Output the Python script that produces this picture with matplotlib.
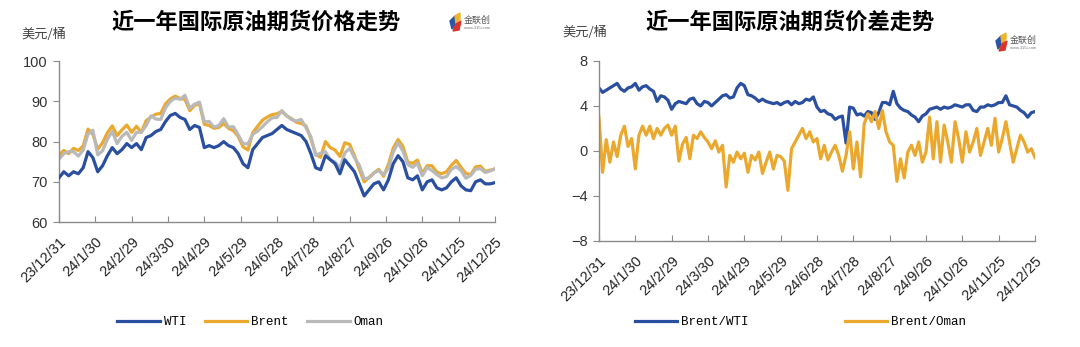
import numpy as np
import pandas as pd
import matplotlib
matplotlib.use('Agg')
import matplotlib.pyplot as plt
from matplotlib.patches import Polygon

# left chart: futures prices, USD/bbl, sampled every 4 days from 23/12/31
wti = [71.0, 72.5, 71.5, 72.5, 72.0, 73.5, 77.5, 76.0, 72.5, 74.0,
       76.5, 78.5, 77.0, 78.0, 79.5, 78.5, 79.5, 78.0, 81.0, 81.5,
       82.5, 83.0, 85.0, 86.5, 87.0, 86.0, 85.5, 83.0, 84.0, 83.5,
       78.5, 79.0, 78.5, 79.0, 80.0, 79.0, 78.5, 77.0, 74.5, 73.5,
       78.0, 79.5, 81.0, 81.5, 82.0, 83.0, 84.0, 83.0, 82.5, 82.0,
       81.5, 80.0, 77.0, 73.5, 73.0, 76.5, 75.5, 74.5, 72.0, 75.5,
       74.0, 72.5, 69.5, 66.5, 68.0, 69.5, 70.0, 68.0, 70.5, 74.5,
       76.5, 75.0, 71.0, 70.5, 71.5, 68.0, 70.0, 70.5, 68.5, 68.0,
       68.5, 70.0, 71.0, 69.0, 68.0, 67.8, 70.0, 70.5, 69.5, 69.5, 69.8]
brent = [76.6, 77.8, 77.0, 78.3, 77.8, 78.9, 83.1, 81.8, 78.1, 79.7,
         82.2, 83.9, 81.5, 82.9, 84.1, 82.3, 83.8, 82.3, 85.2, 86.1,
         86.8, 87.0, 89.4, 90.6, 91.3, 90.7, 90.5, 87.7, 89.0, 89.4,
         84.3, 84.0, 83.3, 83.5, 84.5, 83.3, 82.7, 81.3, 78.7, 77.9,
         82.2, 83.8, 85.3, 86.1, 86.7, 86.9, 87.5, 86.4, 85.7, 84.8,
         84.5, 83.9, 80.7, 76.8, 76.1, 80.0, 78.5, 77.9, 76.3, 79.7,
         79.3, 76.5, 73.1, 70.0, 71.1, 72.2, 73.1, 71.4, 74.3, 78.4,
         80.5, 78.8, 74.9, 74.6, 75.4, 72.1, 74.0, 74.0, 72.4, 72.0,
         72.5, 74.1, 75.3, 73.6, 72.1, 71.8, 73.7, 73.9, 72.6, 72.9, 73.2]
oman = [75.6, 77.0, 77.5, 77.5, 76.4, 77.9, 81.9, 82.8, 76.7, 77.7,
        80.6, 82.5, 79.5, 81.3, 82.3, 80.3, 82.3, 82.3, 84.0, 86.4,
        85.6, 85.5, 88.4, 90.0, 90.8, 90.5, 91.5, 88.3, 89.3, 89.8,
        84.9, 85.0, 83.6, 84.0, 85.7, 83.6, 83.7, 81.7, 79.5, 79.4,
        81.8, 82.6, 83.7, 84.9, 85.9, 86.0, 87.7, 86.4, 85.5, 85.1,
        85.5, 83.4, 81.2, 76.6, 77.1, 77.5, 75.5, 74.9, 73.5, 77.2,
        78.3, 76.0, 74.1, 70.8, 70.9, 72.2, 72.8, 71.8, 73.3, 77.4,
        79.7, 77.6, 74.3, 73.6, 74.6, 71.5, 73.6, 72.8, 71.8, 71.0,
        71.3, 73.1, 73.8, 72.8, 70.9, 71.6, 73.1, 73.3, 72.3, 72.7, 73.2]

# right chart: spreads, USD/bbl, sampled every 3 days from 23/12/31
brent_wti = [5.6, 5.2, 5.4, 5.6, 5.8, 6.0, 5.5, 5.3, 5.6, 5.7,
             6.0, 5.4, 5.7, 5.8, 5.5, 5.3, 4.4, 4.9, 4.8, 4.5,
             3.7, 4.2, 4.4, 4.3, 4.2, 4.6, 4.7, 4.2, 4.0, 4.4,
             4.3, 4.0, 4.3, 4.6, 4.9, 5.0, 4.7, 4.8, 5.6, 6.0,
             5.8, 5.0, 4.9, 4.7, 4.4, 4.6, 4.4, 4.3, 4.2, 4.3,
             4.1, 4.3, 4.4, 4.1, 4.4, 4.2, 4.3, 4.6, 4.5, 4.8,
             3.9, 3.5, 3.6, 3.3, 3.2, 2.8, 3.0, 3.1, 0.7, 3.9,
             3.8, 3.2, 3.3, 3.1, 3.5, 3.4, 2.8, 3.4, 4.3, 4.3,
             4.1, 5.3, 4.2, 3.8, 3.6, 3.5, 3.2, 3.0, 2.6, 3.1,
             3.3, 3.7, 3.8, 3.9, 3.7, 3.9, 3.8, 3.9, 4.1, 4.0,
             3.9, 4.1, 4.1, 3.6, 3.5, 3.9, 3.9, 4.1, 4.0, 4.1,
             4.3, 4.3, 4.9, 4.1, 4.0, 3.9, 3.6, 3.4, 3.0, 3.4, 3.5]
brent_oman = [3.0, -1.9, 1.0, -1.0, 0.8, -0.5, 1.4, 2.2, 0.4, 1.1,
              -1.6, 1.4, 2.2, 1.4, 2.2, 1.1, 2.0, 1.4, 2.0, 2.3,
              1.4, 2.2, -0.9, 0.6, 1.2, -0.7, 1.4, 1.1, 1.7, 1.2,
              0.8, 0.2, 0.9, -0.1, 0.5, -3.2, -0.4, -1.0, -0.1, -0.7,
              -0.2, -1.9, -0.4, -0.8, -0.1, -2.0, -1.0, -0.1, -1.6, -0.4,
              -0.5, -0.9, -3.5, 0.2, 0.8, 1.4, 2.0, 1.1, 1.7, 0.8,
              1.1, -0.7, 0.5, -0.8, -0.1, 0.5, -0.4, -1.8, -0.4, 1.7,
              -1.6, 0.8, -2.3, 2.4, 3.3, 2.6, 3.5, 2.0, 3.6, 1.7,
              0.8, 0.5, -2.7, -0.7, -2.4, -0.1, 0.5, -0.4, 0.8, -1.0,
              -0.1, 3.0, -0.7, 2.6, -1.0, 2.3, 0.8, -1.0, 2.6, 1.1,
              -1.0, 1.7, -0.1, 0.8, 2.0, -0.4, 0.8, 2.0, 0.5, 2.9,
              -0.1, 1.1, 2.6, 0.8, -1.0, 0.2, 1.4, 0.8, -0.1, 0.2, -0.6]

tick_labels = ['23/12/31', '24/1/30', '24/2/29', '24/3/30', '24/4/29', '24/5/29',
               '24/6/28', '24/7/28', '24/8/27', '24/9/26', '24/10/26', '24/11/25',
               '24/12/25']

BLUE = '#2a4fa0'
ORANGE = '#eaa92e'
GREY = '#b9b9b9'
AXIS = '#8a8a8a'
CJK = ['Noto Sans CJK SC', 'DejaVu Sans']

plt.rcParams['font.family'] = ['Liberation Sans', 'DejaVu Sans']

start, end = pd.Timestamp('2023-12-31'), pd.Timestamp('2024-12-25')
d_price = pd.date_range(start, end, periods=len(wti))
d_spread = pd.date_range(start, end, periods=len(brent_wti))
tick_dates = pd.date_range(start, periods=len(tick_labels), freq='30D')

fig = plt.figure(figsize=(10.8, 3.47), dpi=100)
ax1 = fig.add_axes([0.0546, 0.360, 0.4037, 0.464])
ax2 = fig.add_axes([0.5546, 0.3055, 0.4037, 0.519])

ax1.plot(d_price, wti, color=BLUE, lw=2.3, label='WTI', zorder=3)
ax1.plot(d_price, brent, color=ORANGE, lw=2.3, label='Brent', zorder=2)
ax1.plot(d_price, oman, color=GREY, lw=2.3, label='Oman', zorder=2.5)
ax1.set_ylim(60, 100)
ax1.set_yticks([60, 70, 80, 90, 100])

ax2.plot(d_spread, brent_wti, color=BLUE, lw=2.3, label='Brent/WTI')
ax2.plot(d_spread, brent_oman, color=ORANGE, lw=2.3, label='Brent/Oman')
ax2.set_ylim(-8, 8)
ax2.set_yticks([-8, -4, 0, 4, 8])

for ax in (ax1, ax2):
    ax.set_xlim(start, end)
    ax.set_xticks(tick_dates)
    ax.set_xticklabels(tick_labels, rotation=45, ha='right', rotation_mode='anchor',
                       fontsize=10.5, color='#222222')
    for s in ('top', 'right'):
        ax.spines[s].set_visible(False)
    for s in ('left', 'bottom'):
        ax.spines[s].set_color(AXIS)
        ax.spines[s].set_linewidth(1.0)
    ax.tick_params(axis='x', direction='in', length=4, color=AXIS, pad=9)
    ax.tick_params(axis='y', direction='out', length=4, color=AXIS,
                   labelsize=10.5, labelcolor='#333333', pad=4)

leg_font = {'family': 'Liberation Mono', 'size': 9}
fig.legend(*ax1.get_legend_handles_labels(), loc='center', ncol=3,
           bbox_to_anchor=(0.232, 0.072), frameon=False, prop=leg_font,
           handlelength=3.4, columnspacing=1.5, handletextpad=0.3)
fig.legend(*ax2.get_legend_handles_labels(), loc='center', ncol=2,
           bbox_to_anchor=(0.741, 0.072), frameon=False, prop=leg_font,
           handlelength=3.4, columnspacing=7.7, handletextpad=0.3)

fig.text(0.237, 0.935, '近一年国际原油期货价格走势', ha='center', va='center',
         fontsize=16, fontweight='bold', family=CJK)
fig.text(0.732, 0.935, '近一年国际原油期货价差走势', ha='center', va='center',
         fontsize=16, fontweight='bold', family=CJK)
fig.text(0.020, 0.902, '美元/桶', ha='left', va='center', fontsize=9.5,
         color='#444444', family=CJK)
fig.text(0.521, 0.905, '美元/桶', ha='left', va='center', fontsize=9.5,
         color='#444444', family=CJK)


def logo(px, py):
    # small brand mark, px/py = top-left corner in pixels
    W, H = 1080.0, 347.0
    def P(pts, c):
        xy = [((px + a) / W, 1 - (py + b) / H) for a, b in pts]
        fig.patches.append(Polygon(xy, closed=True, color=c, transform=fig.transFigure))
    P([(0, 8), (5, 3), (6, 11), (2, 16)], '#2b55a8')
    P([(5, 3), (10, 0), (10, 6), (6, 11)], '#f0b429')
    P([(6, 11), (11, 8), (9, 17), (3, 18)], '#d9342b')
    fig.text((px + 14) / W, 1 - (py + 7) / H, '金联创', fontsize=6.5, color='#555555',
             ha='left', va='center', family=CJK)
    fig.text((px + 14) / W, 1 - (py + 15) / H, 'www.315i.com', fontsize=3,
             color='#777777', ha='left', va='center')


logo(450, 13)
logo(996, 33)

fig.savefig('out.png', dpi=100, facecolor='white')
